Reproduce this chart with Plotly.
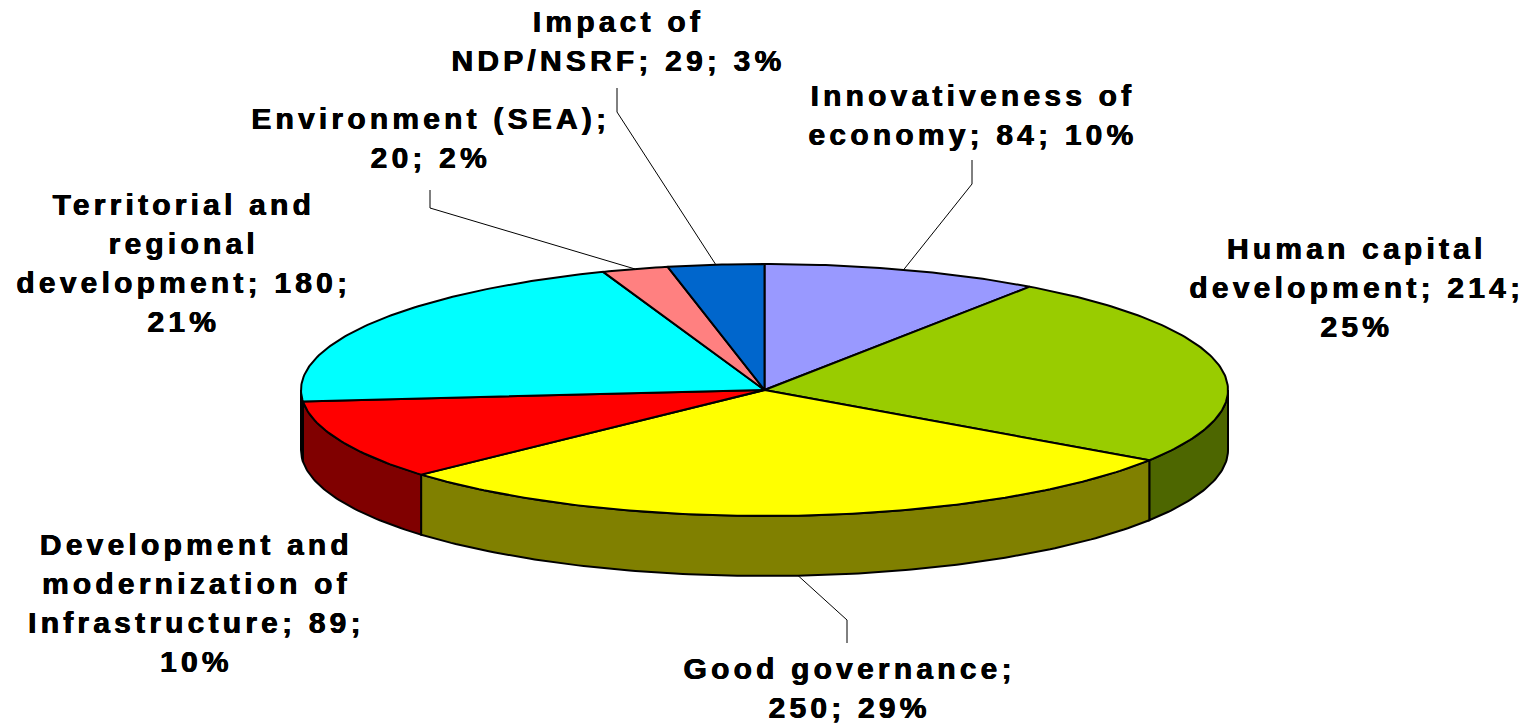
import math
import plotly.graph_objects as go

# ---- data ----
categories = [
    "Innovativeness of economy",
    "Human capital development",
    "Good governance",
    "Development and modernization of Infrastructure",
    "Territorial and regional development",
    "Environment (SEA)",
    "Impact of NDP/NSRF",
]
values = [84, 214, 250, 89, 180, 20, 29]
# label text templates (line breaks as in the original)
label_templates = [
    "Innovativeness of<br>economy; {v}; {p}%",
    "Human capital<br>development; {v};<br>{p}%",
    "Good governance;<br>{v}; {p}%",
    "Development and<br>modernization of<br>Infrastructure; {v};<br>{p}%",
    "Territorial and<br>regional<br>development; {v};<br>{p}%",
    "Environment (SEA);<br>{v}; {p}%",
    "Impact of<br>NDP/NSRF; {v}; {p}%",
]
top_colors = ["#9999FF", "#99CC00", "#FFFF00", "#FF0000", "#00FFFF", "#FF8080", "#0066CC"]
side_colors = ["#4D4D80", "#4D6600", "#808000", "#800000", "#008080", "#804040", "#003366"]

# ---- layout / geometry (pixel space) ----
W, H = 1533, 724
CX, CY, RX, RY, DEPTH = 764.5, 390, 463.5, 126, 60
label_pos = [(973, 115), (1356, 287), (849, 688), (196, 603), (183, 263), (430, 138), (618, 41)]
# leader: (label-side points, attach to top edge(0) or side bottom(1)) ; None = no leader
leaders = [
    ([(972, 160), (972, 184)], 0),
    None,
    ([(847, 643), (847, 620)], 1),
    None,
    None,
    ([(430, 190), (430, 208)], 0),
    ([(617, 88), (617, 112)], 0),
]

total = sum(values)
angles = [0.0]
for v in values:
    angles.append(angles[-1] + v / total * 360.0)


def pt(theta, dy=0.0):
    r = math.radians(theta)
    return CX + RX * math.sin(r), CY - RY * math.cos(r) + dy


def arc(a1, a2, dy=0.0, n=120):
    steps = max(2, int(abs(a2 - a1) / 360 * n * 4))
    pts = [pt(a1 + (a2 - a1) * k / steps, dy) for k in range(steps + 1)]
    return pts


fig = go.Figure()

# side walls (front half only: 90..270 deg)
for i in range(len(values)):
    lo, hi = max(angles[i], 90.0), min(angles[i + 1], 270.0)
    if lo < hi:
        pts = arc(lo, hi) + arc(hi, lo, DEPTH)
        pts.append(pts[0])
        fig.add_trace(go.Scatter(
            x=[p[0] for p in pts], y=[p[1] for p in pts], mode="lines", fill="toself",
            fillcolor=side_colors[i], line=dict(color="black", width=2),
            hoverinfo="skip", showlegend=False))

# top surface slices
for i in range(len(values)):
    pts = [(CX, CY)] + arc(angles[i], angles[i + 1]) + [(CX, CY)]
    fig.add_trace(go.Scatter(
        x=[p[0] for p in pts], y=[p[1] for p in pts], mode="lines", fill="toself",
        fillcolor=top_colors[i], line=dict(color="black", width=2),
        hoverinfo="skip", showlegend=False, name=categories[i]))

# leader lines
for i, ld in enumerate(leaders):
    if ld is None:
        continue
    pts_lab, side = ld
    mid = (angles[i] + angles[i + 1]) / 2
    end = pt(mid, DEPTH if side else 0)
    pts = pts_lab + [end]
    fig.add_trace(go.Scatter(
        x=[p[0] for p in pts], y=[p[1] for p in pts], mode="lines",
        line=dict(color="black", width=1), hoverinfo="skip", showlegend=False))

# labels
for i, v in enumerate(values):
    p = round(v / total * 100)
    fig.add_annotation(
        x=label_pos[i][0], y=label_pos[i][1], xref="x", yref="y",
        text=label_templates[i].format(v=v, p=p), showarrow=False,
        xanchor="center", yanchor="middle", align="center",
        font=dict(family="Liberation Sans, Arial, sans-serif", size=30, color="black", weight="bold",
                  shadow="0.5px 0 0 #000, -0.3px 0 0 #000"))

fig.update_layout(
    width=W, height=H, margin=dict(l=0, r=0, t=0, b=0),
    paper_bgcolor="white", plot_bgcolor="white",
    xaxis=dict(range=[0, W], visible=False, fixedrange=True),
    yaxis=dict(range=[H, 0], visible=False, fixedrange=True),
    showlegend=False,
)

post = ("document.body.style.margin='0';document.body.style.overflow='hidden';"
        "var gd=document.getElementById('{plot_id}');"
        "gd.querySelectorAll('.annotation-text').forEach(function(t){t.style.letterSpacing='4.2px';});")
fig.write_html("out.html", post_script=post, config={"displayModeBar": False})
